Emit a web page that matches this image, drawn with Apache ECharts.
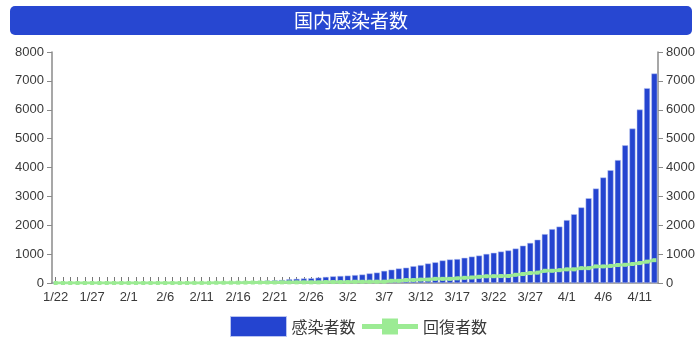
<!DOCTYPE html>
<html><head><meta charset="utf-8">
<script src="https://cdn.jsdelivr.net/npm/echarts@6/dist/echarts.min.js"></script>
<style>html,body{margin:0;padding:0;background:#fff}#c{width:700px;height:344px}</style>
</head><body><div id="c"></div>
<script>
const titleText = '国内感染者数';
const seriesNames = ['感染者数', '回復者数'];
const dates = [
 '1/22','1/23','1/24','1/25','1/26','1/27','1/28','1/29','1/30','1/31',
 '2/1','2/2','2/3','2/4','2/5','2/6','2/7','2/8','2/9','2/10','2/11','2/12','2/13','2/14','2/15','2/16','2/17','2/18','2/19','2/20','2/21','2/22','2/23','2/24','2/25','2/26','2/27','2/28','2/29',
 '3/1','3/2','3/3','3/4','3/5','3/6','3/7','3/8','3/9','3/10','3/11','3/12','3/13','3/14','3/15','3/16','3/17','3/18','3/19','3/20','3/21','3/22','3/23','3/24','3/25','3/26','3/27','3/28','3/29','3/30','3/31',
 '4/1','4/2','4/3','4/4','4/5','4/6','4/7','4/8','4/9','4/10','4/11','4/12','4/13'
];
const infected = [
 1,1,2,3,4,4,7,11,14,17,
 20,20,20,22,25,25,25,26,26,26,28,28,28,33,41,53,59,66,73,84,93,105,132,144,157,164,186,210,230,
 243,256,274,293,331,360,420,461,502,530,582,620,675,716,780,814,829,873,914,950,1007,1046,1089,1128,1193,1292,1387,1499,1693,1866,1953,
 2178,2381,2617,2935,3271,3654,3906,4257,4768,5347,6005,6748,7255
];
const recovered = [
 0,0,0,0,0,0,0,0,1,1,
 1,1,1,1,1,1,1,1,1,4,4,4,9,9,12,12,14,17,18,18,18,22,22,22,22,22,22,32,32,
 32,32,43,43,46,46,46,76,76,102,102,118,118,144,144,144,161,180,191,215,232,235,240,242,285,310,344,359,424,424,444,
 472,472,514,514,575,575,592,622,632,657,690,740,790
];
const yTicks = [0,1000,2000,3000,4000,5000,6000,7000,8000];

const chart = echarts.init(document.getElementById('c'));
const axisColor = '#8a8a8a';
const labelColor = '#3a3a3a';
const font = 'Helvetica, Arial, "Liberation Sans", sans-serif';
function yAxis(pos){
  return {
    type:'value', position:pos, min:yTicks[0], max:yTicks[yTicks.length-1], interval:yTicks[1]-yTicks[0],
    axisLine:{show:true, lineStyle:{color:axisColor, width:1.5}},
    axisTick:{show:true, length:5, lineStyle:{color:axisColor}},
    axisLabel:{color:labelColor, fontSize:13, fontFamily:font, margin:8, formatter:v=>String(v)},
    splitLine:{show:false}
  };
}
const barColor = '#2444d0', lineColor = '#9ceb94';
chart.setOption({
  animation:false,
  graphic:[{
    type:'group', left:10, top:6,
    children:[
      {type:'rect', shape:{x:0,y:0,width:682,height:29,r:5}, style:{fill:'#2747d1'}},
      {type:'text', x:341, y:15, style:{text:titleText, fill:'#fff', fontSize:19, fontFamily:'"Noto Sans CJK JP", sans-serif', align:'center', verticalAlign:'middle'}}
    ]
  }],
  grid:{left:52, right:42, top:52, bottom:61},
  legend:{
    bottom:2, left:225, itemWidth:56, itemHeight:20, itemGap:4,
    textStyle:{color:'#3a3a3a', fontSize:16, fontFamily:'"Noto Sans CJK JP", sans-serif'},
    data:[
      {name:seriesNames[0], icon:'rect', itemStyle:{color:barColor, borderColor:'#b9c4f0', borderWidth:1}},
      {name:seriesNames[1], lineStyle:{width:5, color:lineColor}, itemStyle:{color:lineColor}}
    ]
  },
  xAxis:{
    type:'category', data:dates, boundaryGap:true,
    axisLine:{show:true, lineStyle:{color:axisColor, width:1.5}},
    axisTick:{show:true, inside:true, length:6, interval:0, alignWithLabel:true, lineStyle:{color:'#777'}},
    axisLabel:{interval:4, color:labelColor, fontSize:13, fontFamily:font, margin:8}
  },
  yAxis:[yAxis('left'), yAxis('right')],
  series:[
    {name:seriesNames[0], type:'bar', data:infected, yAxisIndex:0, barCategoryGap:'18%',
     itemStyle:{color:barColor, borderColor:'#b9c4f0', borderWidth:0.5}},
    {name:seriesNames[1], type:'line', data:recovered, yAxisIndex:1,
     symbol:'rect', symbolSize:4, showSymbol:true,
     lineStyle:{color:lineColor, width:3}, itemStyle:{color:lineColor}}
  ]
});
</script></body></html>
